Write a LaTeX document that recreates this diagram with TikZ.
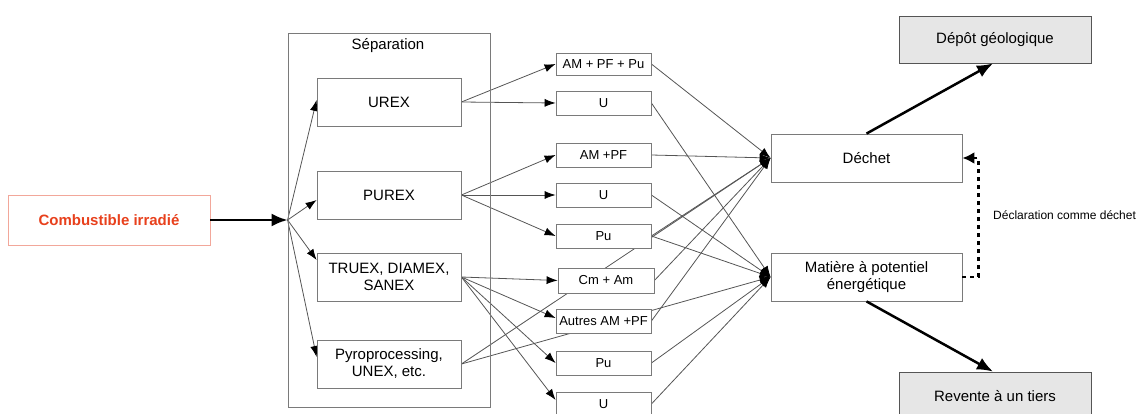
\documentclass[tikz,border=0pt]{standalone}
\usepackage{fontspec}
\setmainfont{Liberation Sans}
\usetikzlibrary{arrows.meta}
\definecolor{boxgray}{HTML}{7A7A7A}
\definecolor{linegray}{HTML}{555555}
\definecolor{combred}{HTML}{E8401C}
\definecolor{combborder}{HTML}{F2A79A}
\definecolor{fillgray}{HTML}{E6E6E6}
\pgfdeclarelayer{bg}
\pgfsetlayers{bg,main}
\tikzset{
  box/.style={draw=boxgray, line width=0.8pt, fill=white, inner sep=0pt, align=center, font=\fontsize{15}{17}\selectfont},
  small/.style={box, minimum width=95pt, minimum height=24pt, font=\fontsize{13}{15}\selectfont},
  big/.style={box, minimum width=144pt, minimum height=48pt},
  conn/.style={draw=linegray, line width=0.8pt, -{Latex[length=11pt,width=8pt,color=black]}},
  thick arrow/.style={draw=black, line width=2.5pt, -{Latex[length=16pt,width=13pt]}},
}
\begin{document}
\begin{tikzpicture}[x=1pt,y=-1pt]
\useasboundingbox (0,0) rectangle (1137,414);
% left
\node[box, draw=combborder, text=combred, font=\fontsize{15}{17}\selectfont\bfseries, minimum width=202pt, minimum height=50pt] (comb) at (109,220) {Combustible irradié};
\node[draw=boxgray, line width=0.8pt, minimum width=202pt, minimum height=374pt, inner sep=0pt] (sep) at (389,220) {};
\node[font=\fontsize{15}{17}\selectfont] (septitle) at (388,46) {Séparation};
\node[big] (urex) at (389,102) {UREX};
\node[big] (purex) at (389,195) {PUREX};
\node[big] (truex) at (389,277) {TRUEX, DIAMEX,\\SANEX};
\node[big] (pyro) at (389,364) {Pyroprocessing,\\UNEX, etc.};
% middle
\node[small, minimum height=22pt] (m1) at (603.5,64) {AM + PF + Pu};
\node[small] (m2) at (603.5,103) {U};
\node[small] (m3) at (603.5,155) {AM +PF};
\node[small] (m4) at (603.5,195) {U};
\node[small] (m5) at (603.5,236) {Pu};
\node[small, minimum width=96pt, minimum height=25pt] (m6) at (606,280.5) {Cm + Am};
\node[small] (m7) at (603.5,321) {Autres AM +PF};
\node[small] (m8) at (603.5,363) {Pu};
\node[small] (m9) at (603.5,404) {U};
% right
\node[box, minimum width=191pt, minimum height=48pt] (dechet) at (866.5,158) {Déchet};
\node[box, minimum width=191pt, minimum height=48pt] (matiere) at (866.5,277) {Matière à potentiel\\énergétique};
\node[box, draw=linegray, fill=fillgray, minimum width=192pt, minimum height=47pt] (depot) at (995,39.5) {Dépôt géologique};
\node[box, draw=linegray, fill=fillgray, minimum width=192pt, minimum height=48pt] (revente) at (995,396) {Revente à un tiers};
\node[anchor=west, inner sep=0pt, font=\fontsize{12}{14}\selectfont] (decl) at (993,215) {Déclaration comme déchet};

\begin{pgfonlayer}{bg}
% fan from separation
\draw[conn] (sep.west) -- ([yshift=2pt]urex.west);
\draw[conn] (sep.west) -- ([yshift=-5pt]purex.west);
\draw[conn] (sep.west) -- ([yshift=17pt]truex.west);
\draw[conn] (sep.west) -- ([yshift=7pt]pyro.west);
% process outputs
\draw[conn] (urex.east) -- (m1.west);
\draw[conn] (urex.east) -- (m2.west);
\draw[conn] (purex.east) -- (m3.west);
\draw[conn] (purex.east) -- (m4.west);
\draw[conn] (purex.east) -- (m5.west);
\draw[conn] (truex.east) -- (m6.west);
\draw[conn] (truex.east) -- ([yshift=3pt]m7.west);
\draw[conn] (truex.east) -- (m8.west);
\draw[conn] (truex.east) -- ([yshift=4pt]m9.west);
\draw[conn] (pyro.east) -- (dechet.west);
\draw[conn] (pyro.east) -- (matiere.west);
% to Déchet
\draw[conn] (m1.east) -- (dechet.west);
\draw[conn] (m3.east) -- (dechet.west);
\draw[conn] (m5.east) -- (dechet.west);
\draw[conn] (m6.east) -- (dechet.west);
\draw[conn] (m7.east) -- (dechet.west);
% to Matière
\draw[conn] (m2.east) -- (matiere.west);
\draw[conn] (m4.east) -- (matiere.west);
\draw[conn] (m5.east) -- (matiere.west);
\draw[conn] (m8.east) -- (matiere.west);
\draw[conn] (m9.east) -- (matiere.west);
\end{pgfonlayer}

% thick arrows
\draw[thick arrow] (comb.east) -- (sep.west);
\draw[thick arrow] (dechet.north) -- ([xshift=-2pt]depot.south);
\draw[thick arrow] (matiere.south) -- ([xshift=-2pt]revente.north);
\draw[line width=2.5pt, dash pattern=on 4pt off 4pt, -{Latex[length=12pt,width=12pt]}] (matiere.east) -- ++(16,0) |- (dechet.east);
\end{tikzpicture}
\end{document}
